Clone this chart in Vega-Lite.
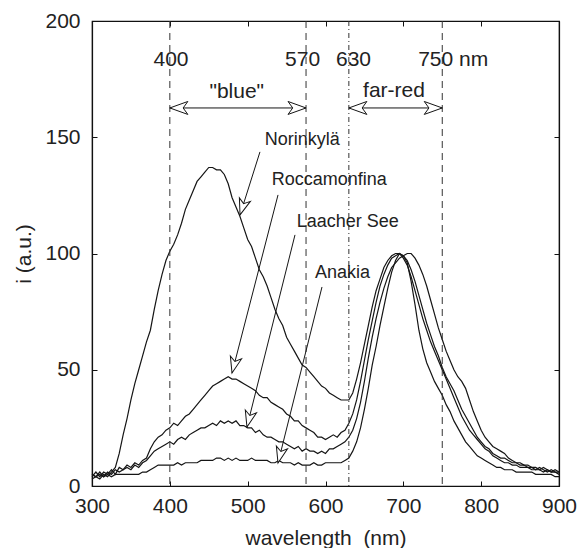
{
  "$schema": "https://vega.github.io/schema/vega-lite/v6.json",
  "width": 467,
  "height": 465,
  "autosize": "none",
  "padding": {"left": 92, "top": 21, "right": 29, "bottom": 62},
  "config": {
    "font": "Liberation Sans",
    "view": {"stroke": "#111", "strokeWidth": 1.2},
    "axis": {
      "grid": false,
      "domainColor": "#111",
      "domainWidth": 1.2,
      "tickColor": "#111",
      "tickSize": -5,
      "tickWidth": 1,
      "labelFlush": false,
      "labelFont": "Liberation Sans",
      "labelFontSize": 21,
      "labelColor": "#222",
      "titleFont": "Liberation Sans",
      "titleFontSize": 21,
      "titleFontWeight": "normal",
      "titleColor": "#222"
    }
  },
  "datasets": {
    "spectra": [
      {"w":300,"N":3,"R":4,"L":5,"A":5},{"w":305,"N":4,"R":6,"L":4,"A":4},{"w":310,"N":3,"R":4,"L":6,"A":5},{"w":315,"N":5,"R":6,"L":4,"A":4},
      {"w":320,"N":4,"R":5,"L":6,"A":5},{"w":325,"N":6,"R":7,"L":5,"A":4},{"w":330,"N":8,"R":5,"L":7,"A":5},{"w":335,"N":14,"R":8,"L":6,"A":5},
      {"w":340,"N":22,"R":7,"L":7,"A":5},{"w":345,"N":29,"R":9,"L":8,"A":5},{"w":350,"N":37,"R":8,"L":7,"A":5},{"w":355,"N":44,"R":10,"L":9,"A":5},
      {"w":360,"N":50,"R":9,"L":8,"A":5},{"w":365,"N":56,"R":11,"L":10,"A":6},{"w":370,"N":62,"R":12,"L":11,"A":6},{"w":375,"N":67,"R":16,"L":13,"A":7},
      {"w":380,"N":76,"R":19,"L":15,"A":8},{"w":385,"N":84,"R":21,"L":16,"A":9},{"w":390,"N":91,"R":22,"L":17,"A":9},{"w":395,"N":97,"R":24,"L":18,"A":9},
      {"w":400,"N":101,"R":25,"L":19,"A":9},{"w":405,"N":104,"R":27,"L":18,"A":9},{"w":410,"N":108,"R":26,"L":20,"A":10},{"w":415,"N":113,"R":28,"L":21,"A":9},
      {"w":420,"N":119,"R":30,"L":20,"A":10},{"w":425,"N":123,"R":31,"L":22,"A":10},{"w":430,"N":127,"R":33,"L":23,"A":10},{"w":435,"N":131,"R":35,"L":24,"A":10},
      {"w":440,"N":133,"R":37,"L":25,"A":11},{"w":445,"N":135,"R":39,"L":25,"A":11},{"w":450,"N":137,"R":41,"L":26,"A":11},{"w":455,"N":137,"R":43,"L":27,"A":11},
      {"w":460,"N":136,"R":44,"L":26,"A":12},{"w":465,"N":136,"R":45,"L":28,"A":12},{"w":470,"N":134,"R":46,"L":27,"A":11},{"w":475,"N":130,"R":47,"L":28,"A":12},
      {"w":480,"N":124,"R":46,"L":27,"A":11},{"w":485,"N":120,"R":46,"L":28,"A":12},{"w":490,"N":116,"R":45,"L":26,"A":11},{"w":495,"N":111,"R":44,"L":26,"A":11},
      {"w":500,"N":106,"R":43,"L":25,"A":11},{"w":505,"N":103,"R":42,"L":25,"A":12},{"w":510,"N":98,"R":41,"L":23,"A":11},{"w":515,"N":93,"R":39,"L":24,"A":11},
      {"w":520,"N":90,"R":38,"L":22,"A":11},{"w":525,"N":86,"R":38,"L":21,"A":11},{"w":530,"N":81,"R":36,"L":21,"A":10},{"w":535,"N":76,"R":35,"L":20,"A":10},
      {"w":540,"N":72,"R":34,"L":19,"A":11},{"w":545,"N":69,"R":33,"L":19,"A":10},{"w":550,"N":64,"R":31,"L":18,"A":10},{"w":555,"N":61,"R":30,"L":17,"A":10},
      {"w":560,"N":58,"R":28,"L":16,"A":9},{"w":565,"N":55,"R":28,"L":17,"A":10},{"w":570,"N":52,"R":26,"L":15,"A":9},{"w":575,"N":51,"R":25,"L":16,"A":9},
      {"w":580,"N":49,"R":24,"L":15,"A":9},{"w":585,"N":47,"R":23,"L":15,"A":10},{"w":590,"N":45,"R":21,"L":14,"A":9},{"w":595,"N":43,"R":21,"L":15,"A":9},
      {"w":600,"N":42,"R":20,"L":14,"A":10},{"w":605,"N":40,"R":21,"L":16,"A":10},{"w":610,"N":39,"R":22,"L":16,"A":10},{"w":615,"N":38,"R":21,"L":17,"A":10},
      {"w":620,"N":37,"R":23,"L":18,"A":10},{"w":625,"N":37,"R":24,"L":19,"A":11},{"w":630,"N":37,"R":27,"L":21,"A":12},{"w":635,"N":40,"R":31,"L":24,"A":15},
      {"w":640,"N":46,"R":37,"L":29,"A":19},{"w":645,"N":53,"R":45,"L":36,"A":25},{"w":650,"N":61,"R":54,"L":45,"A":33},{"w":655,"N":69,"R":63,"L":55,"A":42},
      {"w":660,"N":77,"R":71,"L":64,"A":52},{"w":665,"N":84,"R":79,"L":72,"A":60},{"w":670,"N":89,"R":86,"L":79,"A":69},{"w":675,"N":94,"R":91,"L":85,"A":77},
      {"w":680,"N":97,"R":95,"L":90,"A":85},{"w":685,"N":99,"R":98,"L":94,"A":92},{"w":690,"N":100,"R":99,"L":96,"A":97},{"w":695,"N":100,"R":100,"L":98,"A":100},
      {"w":700,"N":98,"R":99,"L":99,"A":99},{"w":705,"N":95,"R":97,"L":100,"A":96},{"w":710,"N":90,"R":93,"L":100,"A":88},{"w":715,"N":84,"R":88,"L":98,"A":78},
      {"w":720,"N":78,"R":82,"L":95,"A":67},{"w":725,"N":72,"R":76,"L":91,"A":59},{"w":730,"N":67,"R":70,"L":86,"A":53},{"w":735,"N":62,"R":65,"L":80,"A":49},
      {"w":740,"N":58,"R":60,"L":74,"A":45},{"w":745,"N":54,"R":56,"L":68,"A":42},{"w":750,"N":50,"R":51,"L":63,"A":39},{"w":755,"N":46,"R":47,"L":58,"A":35},
      {"w":760,"N":42,"R":44,"L":54,"A":32},{"w":765,"N":38,"R":41,"L":50,"A":28},{"w":770,"N":34,"R":37,"L":47,"A":25},{"w":775,"N":30,"R":33,"L":45,"A":22},
      {"w":780,"N":27,"R":30,"L":42,"A":19},{"w":785,"N":24,"R":27,"L":37,"A":17},{"w":790,"N":22,"R":24,"L":32,"A":15},{"w":795,"N":20,"R":21,"L":28,"A":13},
      {"w":800,"N":18,"R":19,"L":24,"A":12},{"w":805,"N":16,"R":17,"L":21,"A":11},{"w":810,"N":15,"R":16,"L":19,"A":10},{"w":815,"N":13,"R":14,"L":17,"A":9},
      {"w":820,"N":12,"R":13,"L":16,"A":8},{"w":825,"N":11,"R":12,"L":15,"A":8},{"w":830,"N":10,"R":12,"L":14,"A":7},{"w":835,"N":10,"R":11,"L":12,"A":7},
      {"w":840,"N":9,"R":10,"L":11,"A":7},{"w":845,"N":9,"R":10,"L":10,"A":6},{"w":850,"N":8,"R":9,"L":10,"A":6},{"w":855,"N":8,"R":9,"L":9,"A":6},
      {"w":860,"N":8,"R":8,"L":9,"A":6},{"w":865,"N":7,"R":8,"L":8,"A":6},{"w":870,"N":7,"R":7,"L":8,"A":5},{"w":875,"N":7,"R":8,"L":7,"A":5},
      {"w":880,"N":6,"R":7,"L":8,"A":5},{"w":885,"N":7,"R":6,"L":7,"A":5},{"w":890,"N":6,"R":7,"L":6,"A":5},{"w":895,"N":6,"R":6,"L":7,"A":4},
      {"w":900,"N":6,"R":5,"L":6,"A":4}
    ],
    "dashed": [{"wl": 400}, {"wl": 575}, {"wl": 750}],
    "dashdot": [{"wl": 630}],
    "bands": [
      {"band": "\"blue\"", "from": 400, "to": 575, "y": 162.6, "lx": 486, "ly": 166.8},
      {"band": "far-red", "from": 630, "to": 750, "y": 162.6, "lx": 688, "ly": 167.5}
    ],
    "wlLabels": [
      {"t": "400", "x": 401.5, "y": 180.8},
      {"t": "570", "x": 570.5, "y": 180.8},
      {"t": "630", "x": 636, "y": 180.8},
      {"t": "750 nm", "x": 764, "y": 180.8}
    ],
    "callouts": [
      {"name": "Norinkylä", "lx": 522, "ly": 146.7, "x0": 515.8, "y0": 143.7, "x1": 490.2, "y1": 116.6},
      {"name": "Roccamonfina", "lx": 531, "ly": 129.5, "x0": 539, "y0": 125.2, "x1": 479.9, "y1": 48.6},
      {"name": "Laacher See", "lx": 563, "ly": 111.5, "x0": 560.8, "y0": 108, "x1": 499.1, "y1": 25.4},
      {"name": "Anakia", "lx": 586.5, "ly": 89.3, "x0": 595.5, "y0": 85.6, "x1": 539, "y1": 9.9}
    ]
  },
  "resolve": {"axis": {"x": "independent", "y": "independent"}},
  "layer": [
    {
      "data": {"name": "spectra"},
      "transform": [{"fold": ["N", "R", "L", "A"], "as": ["series", "i"]}],
      "mark": {"type": "line", "color": "#151515", "strokeWidth": 1.2},
      "encoding": {
        "x": {"field": "w", "type": "quantitative", "scale": {"domain": [300, 900], "nice": false, "zero": false},
              "axis": {"orient": "bottom", "values": [300, 400, 500, 600, 700, 800, 900], "title": "wavelength\u00a0 (nm)", "labelPadding": 14, "titlePadding": 11}},
        "y": {"field": "i", "type": "quantitative", "scale": {"domain": [0, 200], "nice": false},
              "axis": {"orient": "left", "values": [0, 50, 100, 150, 200], "title": "i (a.u.)", "labelPadding": 17, "titlePadding": 10}},
        "detail": {"field": "series"}
      }
    },
    {
      "data": {"name": "dashed"},
      "mark": {"type": "rule", "color": "#333", "strokeWidth": 1, "strokeDash": [7, 5]},
      "encoding": {"x": {"field": "wl", "type": "quantitative", "scale": {"domain": [300, 900], "nice": false, "zero": false}, "axis": null}}
    },
    {
      "data": {"name": "dashdot"},
      "mark": {"type": "rule", "color": "#333", "strokeWidth": 1, "strokeDash": [5, 3, 1, 3]},
      "encoding": {"x": {"field": "wl", "type": "quantitative", "scale": {"domain": [300, 900], "nice": false, "zero": false}, "axis": null}}
    },
    {
      "data": {"name": "bands"},
      "mark": {"type": "rule", "color": "#151515", "strokeWidth": 1},
      "encoding": {
        "x": {"field": "from", "type": "quantitative", "scale": {"domain": [300, 900], "nice": false, "zero": false}, "axis": null},
        "x2": {"field": "to"},
        "y": {"field": "y", "type": "quantitative", "scale": {"domain": [0, 200], "nice": false}, "axis": null}
      }
    },
    {
      "data": {"name": "bands"},
      "mark": {"type": "point", "shape": "M0,0L1,-0.36L0.74,0L1,0.36Z", "size": 1296, "filled": true, "fill": "white", "stroke": "#151515", "strokeWidth": 1, "opacity": 1},
      "encoding": {
        "x": {"field": "from", "type": "quantitative", "scale": {"domain": [300, 900], "nice": false, "zero": false}, "axis": null},
        "y": {"field": "y", "type": "quantitative", "scale": {"domain": [0, 200], "nice": false}, "axis": null}
      }
    },
    {
      "data": {"name": "bands"},
      "mark": {"type": "point", "shape": "M0,0L-1,-0.36L-0.74,0L-1,0.36Z", "size": 1296, "filled": true, "fill": "white", "stroke": "#151515", "strokeWidth": 1, "opacity": 1},
      "encoding": {
        "x": {"field": "to", "type": "quantitative", "scale": {"domain": [300, 900], "nice": false, "zero": false}, "axis": null},
        "y": {"field": "y", "type": "quantitative", "scale": {"domain": [0, 200], "nice": false}, "axis": null}
      }
    },
    {
      "data": {"name": "bands"},
      "mark": {"type": "text", "font": "Liberation Sans", "fontSize": 21, "color": "#222", "align": "center", "baseline": "alphabetic"},
      "encoding": {
        "x": {"field": "lx", "type": "quantitative", "scale": {"domain": [300, 900], "nice": false, "zero": false}, "axis": null},
        "y": {"field": "ly", "type": "quantitative", "scale": {"domain": [0, 200], "nice": false}, "axis": null},
        "text": {"field": "band"}
      }
    },
    {
      "data": {"name": "wlLabels"},
      "mark": {"type": "text", "font": "Liberation Sans", "fontSize": 21, "color": "#222", "align": "center", "baseline": "alphabetic"},
      "encoding": {
        "x": {"field": "x", "type": "quantitative", "scale": {"domain": [300, 900], "nice": false, "zero": false}, "axis": null},
        "y": {"field": "y", "type": "quantitative", "scale": {"domain": [0, 200], "nice": false}, "axis": null},
        "text": {"field": "t"}
      }
    },
    {
      "data": {"name": "callouts"},
      "mark": {"type": "rule", "color": "#151515", "strokeWidth": 1},
      "encoding": {
        "x": {"field": "x0", "type": "quantitative", "scale": {"domain": [300, 900], "nice": false, "zero": false}, "axis": null},
        "y": {"field": "y0", "type": "quantitative", "scale": {"domain": [0, 200], "nice": false}, "axis": null},
        "x2": {"field": "x1"},
        "y2": {"field": "y1"}
      }
    },
    {
      "data": {"name": "callouts"},
      "transform": [{"filter": "datum.name === 'Norinkylä'"}],
      "mark": {"type": "point", "shape": "M0,0L-1,-0.36L-0.74,0L-1,0.36Z", "size": 1024, "angle": 107.6, "filled": true, "fill": "white", "stroke": "#151515", "strokeWidth": 1, "opacity": 1},
      "encoding": {
        "x": {"field": "x1", "type": "quantitative", "scale": {"domain": [300, 900], "nice": false, "zero": false}, "axis": null},
        "y": {"field": "y1", "type": "quantitative", "scale": {"domain": [0, 200], "nice": false}, "axis": null}
      }
    },
    {
      "data": {"name": "callouts"},
      "transform": [{"filter": "datum.name !== 'Norinkylä'"}],
      "mark": {"type": "point", "shape": "M0,0L-1,-0.36L-0.74,0L-1,0.36Z", "size": 1024, "angle": 104.2, "filled": true, "fill": "white", "stroke": "#151515", "strokeWidth": 1, "opacity": 1},
      "encoding": {
        "x": {"field": "x1", "type": "quantitative", "scale": {"domain": [300, 900], "nice": false, "zero": false}, "axis": null},
        "y": {"field": "y1", "type": "quantitative", "scale": {"domain": [0, 200], "nice": false}, "axis": null}
      }
    },
    {
      "data": {"name": "callouts"},
      "mark": {"type": "text", "font": "Liberation Sans", "fontSize": 18, "color": "#222", "align": "left", "baseline": "alphabetic"},
      "encoding": {
        "x": {"field": "lx", "type": "quantitative", "scale": {"domain": [300, 900], "nice": false, "zero": false},
              "axis": {"orient": "top", "values": [300, 400, 500, 600, 700, 800, 900], "labels": false, "title": null}},
        "y": {"field": "ly", "type": "quantitative", "scale": {"domain": [0, 200], "nice": false},
              "axis": {"orient": "right", "values": [0, 50, 100, 150, 200], "labels": false, "title": null}},
        "text": {"field": "name"}
      }
    }
  ]
}
